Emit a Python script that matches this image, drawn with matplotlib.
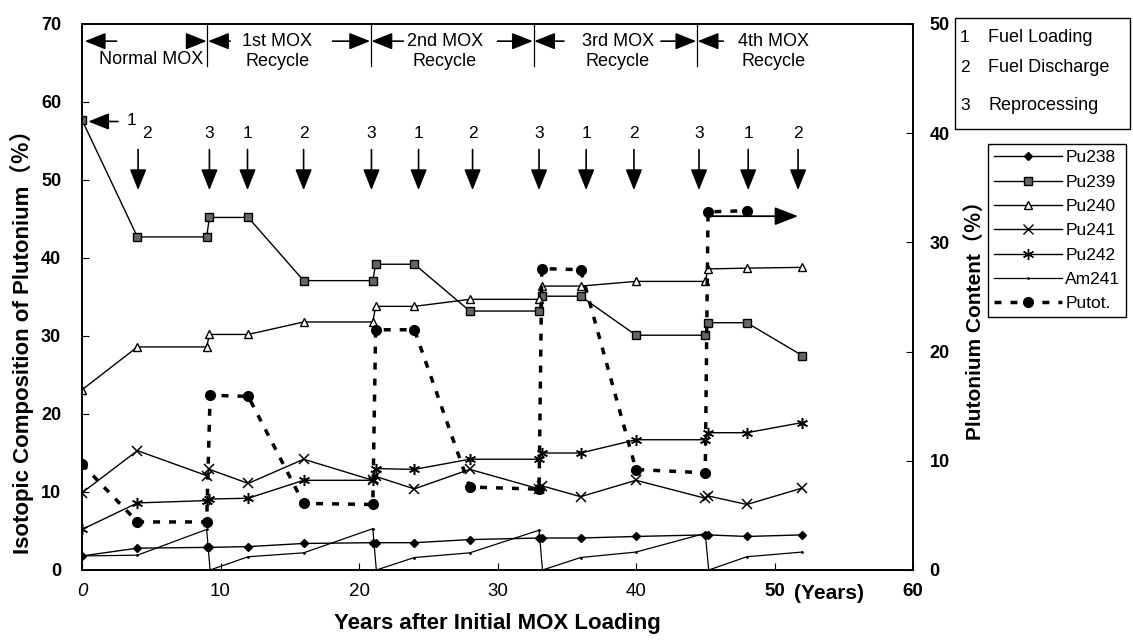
import matplotlib
matplotlib.use('Agg')
import matplotlib.pyplot as plt
from matplotlib.lines import Line2D
from matplotlib.patches import Rectangle

plt.rcParams['font.family'] = ['Liberation Sans', 'Noto Sans CJK JP', 'DejaVu Sans']

# isotopic composition (left axis, %)
years = [0, 4, 9, 9.2, 12, 16, 21, 21.2, 24, 28, 33, 33.2, 36, 40, 45, 45.2, 48, 52]
pu238 = [1.8, 2.8, 2.9, 2.9, 3.0, 3.4, 3.5, 3.5, 3.5, 3.9, 4.1, 4.1, 4.1, 4.3, 4.5, 4.5, 4.3, 4.5]
pu239 = [57.7, 42.7, 42.7, 45.2, 45.2, 37.1, 37.1, 39.2, 39.2, 33.2, 33.2, 35.1, 35.1, 30.1, 30.1, 31.7, 31.7, 27.5]
pu240 = [23.1, 28.6, 28.6, 30.2, 30.2, 31.8, 31.8, 33.8, 33.8, 34.7, 34.7, 36.4, 36.4, 37.0, 37.0, 38.6, 38.7, 38.8]
pu241 = [9.9, 15.3, 12.1, 12.9, 11.1, 14.2, 11.5, 12.0, 10.4, 12.9, 10.4, 10.8, 9.4, 11.5, 9.2, 9.5, 8.4, 10.5]
pu242 = [5.2, 8.6, 8.9, 9.1, 9.2, 11.5, 11.5, 13.0, 12.9, 14.2, 14.2, 15.0, 15.0, 16.7, 16.7, 17.6, 17.6, 18.9]

years_am = [0, 4, 9, 9.25, 12, 16, 21, 21.25, 24, 28, 33, 33.25, 36, 40, 45, 45.25, 48, 52]
am241 = [1.8, 1.9, 5.2, 0.0, 1.7, 2.2, 5.3, 0.0, 1.6, 2.2, 5.1, 0.0, 1.6, 2.3, 4.7, 0.0, 1.7, 2.3]

# plutonium content (right axis, %)
years_pt = [0, 4, 9, 9.25, 12, 16, 21, 21.2, 24, 28, 33, 33.2, 36, 40, 45, 45.2, 48]
putot = [9.7, 4.4, 4.4, 16.0, 15.9, 6.1, 6.0, 22.0, 22.0, 7.6, 7.4, 27.6, 27.5, 9.2, 8.9, 32.8, 32.9]

# step annotations: position (years) and label 1/2/3
step_x = [4.05, 9.2, 11.95, 16.0, 20.9, 24.3, 28.2, 33.0, 36.4, 39.85, 44.55, 48.1, 51.7]
step_lab = ['2', '3', '1', '2', '3', '1', '2', '3', '1', '2', '3', '1', '2']

phase_names = ['Normal MOX', '1st MOX\nRecycle', '2nd MOX\nRecycle', '3rd MOX\nRecycle', '4th MOX\nRecycle']
phase_x = [5.0, 14.1, 26.2, 38.7, 49.9]
bounds = [9.05, 20.85, 32.6, 44.4]

fig = plt.figure(figsize=(11.33, 6.41), dpi=100)
ax = fig.add_axes([82/1133, 1-570/641, (913-82)/1133, (570-24)/641])
ax2 = ax.twinx()

ax.plot(years, pu238, '-', color='k', lw=1, marker='D', ms=4.5, label='Pu238')
ax.plot(years, pu239, '-', color='k', lw=1, marker='s', ms=6, mfc='#666666', mec='k', label='Pu239')
ax.plot(years, pu240, '-', color='k', lw=1, marker='^', ms=6, mfc='white', mec='k', label='Pu240')
ax.plot(years, pu241, '-', color='k', lw=1, marker='x', ms=7, mew=1.1, label='Pu241')
ax.plot(years, pu242, '-', color='k', lw=1, marker=(6, 2, 0), ms=8, mew=1.1, label='Pu242')
ax.plot(years_am, am241, '-', color='k', lw=0.9, marker='.', ms=2, label='Am241')
ax2.plot(years_pt, putot, color='k', lw=2.5, ls=(0, (2, 2.6)), marker='o', ms=7, label='Putot.')
ax2.annotate('', xy=(51.7, 32.4), xytext=(45.4, 32.4),
             arrowprops=dict(arrowstyle='-|>,head_length=0.9,head_width=0.35', color='k', lw=1.3,
                             shrinkA=0, shrinkB=0, mutation_scale=16))

ax.set_xlim(0, 60)
ax.set_ylim(0, 70)
ax2.set_ylim(0, 50)

ax.set_xticks([0, 10, 20, 30, 40, 50, 60])
ax.set_xticklabels(['0', '10', '20', '30', '40', '50', '60'], fontsize=13.5)
ax.get_xticklabels()[0].set_style('italic')
ax.get_xticklabels()[5].set_fontweight('bold')
ax.get_xticklabels()[6].set_fontweight('bold')
ax.set_yticks(range(0, 71, 10))
ax.set_yticklabels([str(v) for v in range(0, 71, 10)], fontsize=13, fontweight='bold')
ax2.set_yticks(range(0, 51, 10))
ax2.set_yticklabels([str(v) for v in range(0, 51, 10)], fontsize=13, fontweight='bold')
ax.tick_params(axis='x', direction='in', length=5, pad=9)
ax.tick_params(axis='y', direction='in', length=5, pad=15)
ax2.tick_params(axis='y', direction='in', length=5, pad=12)
for a in (ax, ax2):
    for s in a.spines.values():
        s.set_linewidth(1.2)
ax.text(51.4, -3.0, '(Years)', fontsize=15, fontweight='bold', va='center', ha='left')

# phase bands at the top
arrow_kw = dict(arrowstyle='-|>,head_length=0.8,head_width=0.32', color='k', lw=1.2,
                shrinkA=0, shrinkB=0, mutation_scale=16)
for b in bounds:
    ax.plot([b, b], [64.6, 70], color='k', lw=0.9)
for x0, x1 in [(2.5, 0.2), (8.1, 9.0), (10.7, 9.1), (18.1, 20.8), (23.2, 20.9),
               (30.0, 32.55), (34.8, 32.65), (41.8, 44.35), (46.3, 44.45)]:
    ax.annotate('', xy=(x1, 67.8), xytext=(x0, 67.8), arrowprops=arrow_kw)
ax.text(phase_x[0], 65.5, phase_names[0], fontsize=13, ha='center', va='center')
for px, name in zip(phase_x[1:], phase_names[1:]):
    ax.text(px, 66.5, name, fontsize=13, ha='center', va='center', linespacing=1.25)

# step arrows 1/2/3
ax.annotate('', xy=(0.45, 57.5), xytext=(2.6, 57.5), arrowprops=arrow_kw)
ax.text(3.6, 57.6, '1', fontsize=12.5, ha='center', va='center')
for sx, lab in zip(step_x, step_lab):
    ax.annotate('', xy=(sx, 48.7), xytext=(sx, 53.9), arrowprops=arrow_kw)
    tx = sx + 0.65 if sx < 5 else sx
    ax.text(tx, 56.0, lab, fontsize=12.5, ha='center', va='center')

# labels
fig.text(22/1133, 1-336/641, 'Isotopic Composition of Plutonium（％）', rotation=90,
         fontsize=16, fontweight='bold', ha='center', va='center')
fig.text(975/1133, 1-315/641, 'Plutonium Content（％）', rotation=90,
         fontsize=15, fontweight='bold', ha='center', va='center')
fig.text(497/1133, 1-624/641, 'Years after Initial MOX Loading', fontsize=16,
         fontweight='bold', ha='center', va='center')

# step key box
fig.patches.append(Rectangle((955/1133, 1-129/641), 175/1133, 111/641, transform=fig.transFigure,
                             fill=False, edgecolor='k', lw=1))
for ty, num, txt in [(38, '1', 'Fuel Loading'), (67, '2', 'Fuel Discharge'), (105, '3', 'Reprocessing')]:
    fig.text(960/1133, 1-ty/641, num, fontsize=12.5, va='center')
    fig.text(988/1133, 1-ty/641, txt, fontsize=13, va='center')

# isotope legend
handles = [
    Line2D([], [], color='k', lw=1, marker='D', ms=4.5),
    Line2D([], [], color='k', lw=1, marker='s', ms=6, mfc='#666666', mec='k'),
    Line2D([], [], color='k', lw=1, marker='^', ms=6, mfc='white', mec='k'),
    Line2D([], [], color='k', lw=1, marker='x', ms=7),
    Line2D([], [], color='k', lw=1, marker=(6, 2, 0), ms=8),
    Line2D([], [], color='k', lw=0.9, marker='.', ms=2),
    Line2D([], [], color='k', lw=2.5, ls=(0, (2, 2.6)), marker='o', ms=7),
]
labels = ['Pu238', 'Pu239', 'Pu240', 'Pu241', 'Pu242', 'Am241', 'Putot.']
leg = fig.legend(handles, labels, loc='upper left', bbox_to_anchor=(988/1133, 1-144/641),
                 frameon=True, fancybox=False, edgecolor='k', framealpha=1, fontsize=12.5,
                 handlelength=3.9, handletextpad=0.2, labelspacing=0.53, borderpad=0.35,
                 borderaxespad=0)
leg.get_frame().set_linewidth(1)

plt.savefig('out.png', dpi=100)
